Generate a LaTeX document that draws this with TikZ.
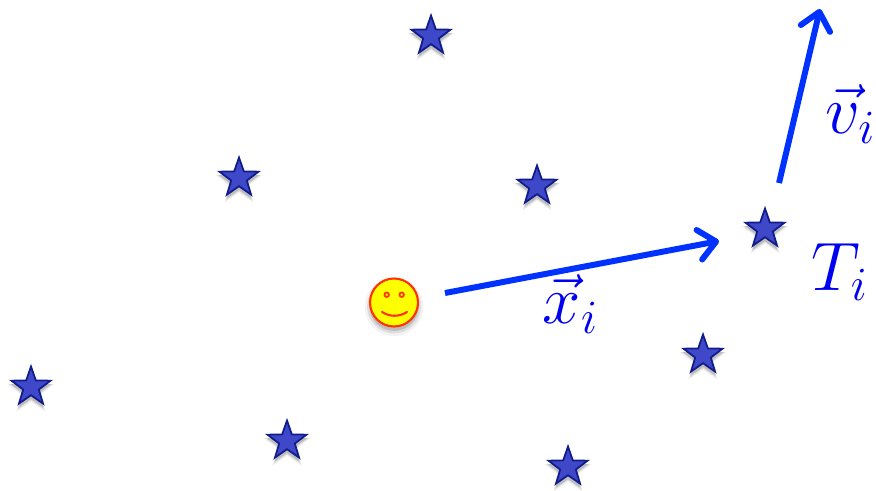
\documentclass[tikz,border=0pt]{standalone}
\usepackage{amsmath,amssymb}
\usepackage{graphicx}
\usepackage{tikz}
\usetikzlibrary{arrows.meta,positioning,calc,shapes.geometric,shadows}
\definecolor{starfill}{RGB}{62,72,200}
\definecolor{stardraw}{RGB}{16,28,140}
\definecolor{velblue}{RGB}{0,50,255}
\definecolor{labblue}{RGB}{0,0,240}
\definecolor{smileline}{RGB}{255,50,0}
\definecolor{smilefill}{RGB}{255,255,0}
\newcommand{\Blab}[1]{\scalebox{1.13}{$#1$}}
\tikzset{
  softshadow/.style={
    drop shadow={shadow xshift=0pt, shadow yshift=-1.0pt, shadow scale=1.22, opacity=0.05, fill=black},
    drop shadow={shadow xshift=0pt, shadow yshift=-1.0pt, shadow scale=1.12, opacity=0.09, fill=black},
    drop shadow={shadow xshift=0pt, shadow yshift=-1.0pt, shadow scale=1.03, opacity=0.14, fill=black}},
  tgt/.style={star, star points=5, star point ratio=2.5, minimum size=0.41cm, inner sep=0pt,
              draw=stardraw, fill=starfill, line width=0.5pt, softshadow},
  vecarr/.style={-{Straight Barb[length=1.7mm, width=3.0mm, round]}, velblue, line width=1.7pt},
  veclab/.style={labblue, font=\fontsize{17.28}{21}\selectfont},
}
\begin{document}
\begin{tikzpicture}
  \useasboundingbox (0,0) rectangle (8.76,4.90);
  % targets
  \foreach \nm/\x/\y in {ta/4.31/4.54, tb/2.39/3.12, tc/5.37/3.04, ti/7.65/2.61,
                         te/7.03/1.35, tf/0.31/1.03, tg/2.87/0.49, th/5.68/0.23}{
    \node[tgt] (\nm) at (\x,\y) {};
  }
  % observer
  \node[circle, draw=smileline, fill=smilefill, line width=0.6pt, minimum size=0.48cm,
        inner sep=0pt, softshadow] (obs) at (3.94,1.875) {};
  \node[circle, draw=smileline, line width=0.5pt, minimum size=0.045cm, inner sep=0pt] (eyel) at (3.867,1.953) {};
  \node[circle, draw=smileline, line width=0.5pt, minimum size=0.045cm, inner sep=0pt] (eyer) at (4.017,1.953) {};
  \draw[smileline, line width=0.6pt, line cap=round] (3.82,1.78) .. controls (3.90,1.73) and (3.99,1.73) .. (4.07,1.78);
  % position and velocity
  \coordinate (xs) at (4.45,1.97);
  \coordinate (xe) at (7.19,2.49);
  \coordinate (vs) at (7.79,3.07);
  \coordinate (ve) at (8.20,4.81);
  \draw[vecarr] (xs) -- (xe);
  \draw[vecarr] (vs) -- (ve);
  \node[veclab] (xlab) at (5.71,1.86) {\Blab{\vec{x}_i}};
  \node[veclab] (vlab) at (8.51,3.76) {\Blab{\vec{v}_i}};
  \node[veclab] (tlab) at (8.40,2.18) {\Blab{T_i}};
\end{tikzpicture}
\end{document}
